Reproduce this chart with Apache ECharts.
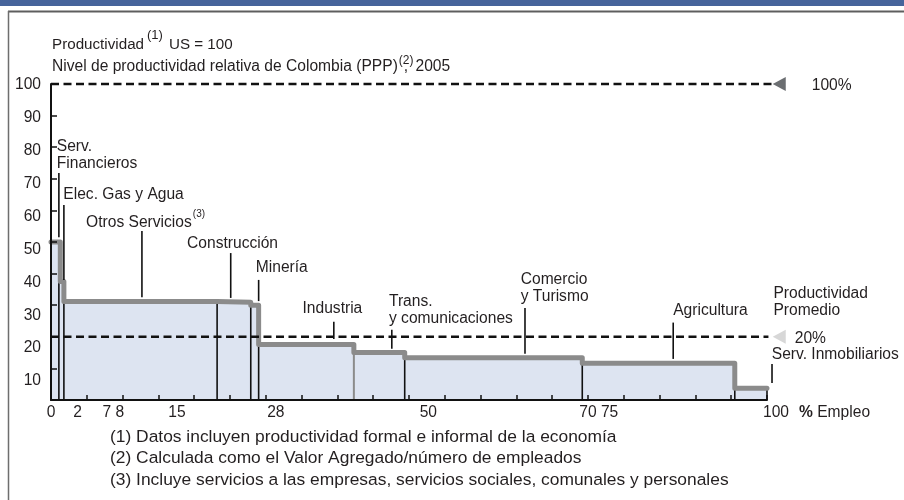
<!DOCTYPE html>
<html><head><meta charset="utf-8">
<script src="https://cdn.jsdelivr.net/npm/echarts@6/dist/echarts.min.js"></script>
<style>html,body{margin:0;padding:0;background:#fff}#c{width:904px;height:500px}</style>
</head><body><div id="c"></div>
<script>
// ---------------- data ----------------
const sectors = ['Serv. Financieros', 'Elec. Gas y Agua', 'Otros Servicios', 'Construcción', 'Minería',
  'Industria', 'Trans. y comunicaciones', 'Comercio y Turismo', 'Agricultura', 'Serv. Inmobiliarios'];
// cumulative % of employment at each sector boundary
const employmentBounds = [0, 1.3, 1.8, 23.2, 27.9, 29.0, 42.3, 49.4, 74.2, 95.5, 100];
// relative productivity (US = 100) of each sector
const productivity = [50, 37.5, 31.2, 30.9, 30.0, 17.6, 15.0, 13.4, 11.6, 3.7];
// vertical separators drawn inside the area (% empleo)
const dividerPositions = [1.1, 1.8, 23.2, 27.9, 29.0, 42.3, 49.4, 74.2, 95.5, 100];
// reference levels
const referenceLevels = [100, 20];
const referenceLabels = ['100%', '20%'];
// axis ticks / labels
const yTickValues = [10, 20, 30, 40, 50, 60, 70, 80, 90];
const yLabelValues = [10, 20, 30, 40, 50, 60, 70, 80, 90, 100];
const yLabelTexts = ['10', '20', '30', '40', '50', '60', '70', '80', '90', '100'];
const xTickValues = [5, 10, 15, 20, 25, 30, 35, 40, 45, 50, 55, 60, 65, 70, 75, 80, 85, 90, 95, 100];
const xLabelValues = [0, 3.7, 8.7, 17.6, 31.4, 52.7, 76.5, 100];
const xLabelTexts = ['0', '2', '7 8', '15', '28', '50', '70 75', '100'];
const footnotes = [
  '(1) Datos incluyen productividad formal e informal de la economía',
  '(2) Calculada como el Valor Agregado/número de empleados',
  '(3) Incluye servicios a las empresas, servicios sociales, comunales y personales'
];

// ---------------- layout / style ----------------
const FONT = '"Liberation Sans", Arial, Helvetica, sans-serif';
const FS = 15.6;
const TXT = '#231f20';
const annotations = [
  { text: 'Serv.\nFinancieros', at: [0.8, 77.4], leader: [1.1, 71.8, 51.5] },
  { text: 'Elec. Gas y Agua', at: [1.72, 64.9], leader: [1.8, 61.7, 38] },
  { text: 'Otros Servicios', sup: '(3)', at: [4.9, 56.1], leader: [12.7, 53.5, 32.5] },
  { text: 'Construcción', at: [19.0, 49.4], leader: [25.1, 46.5, 32.3] },
  { text: 'Minería', at: [28.6, 41.8], leader: [29.0, 38, 31.3] },
  { text: 'Industria', at: [39.3, 28.8], align: 'center', leader: [39.5, 24.8, 19.3] },
  { text: 'Trans.\ny comunicaciones', at: [47.2, 28.4], leader: [47.6, 22.2, 16.2] },
  { text: 'Comercio\ny Turismo', at: [65.6, 35.5], leader: [66.2, 29.1, 14.6] },
  { text: 'Agricultura', at: [86.9, 28.3], leader: [86.9, 24.5, 13.0] },
  { text: 'Productividad\nPromedio', at: [100.9, 30.9] },
  { text: 'Serv. Inmobiliarios', at: [100.66, 14.2], leader: [100.7, 11.4, 5.4] }
];
const refStyle = [
  { end: 100.7, tip: 100.8, tri: '#6b6e71', labelDx: 39 },
  { end: 100.2, tip: 100.8, tri: '#d7d7d7', labelDx: 22 }
];
const dividerGray = [42.3];

const mctx = document.createElement('canvas').getContext('2d');
function tw(t, size) { mctx.font = size + 'px ' + FONT; return mctx.measureText(t).width; }

// step outline points built from the data
const stepPoints = [];
productivity.forEach((v, i) => {
  stepPoints.push([employmentBounds[i], v]);
  stepPoints.push([employmentBounds[i + 1], v]);
});
function heightAt(p) {
  for (let i = 0; i < productivity.length; i++) {
    if (p > employmentBounds[i] && p <= employmentBounds[i + 1]) return productivity[i];
  }
  return productivity[0];
}
const dividerData = dividerPositions.map(p => [p, heightAt(p)]);

const chart = echarts.init(document.getElementById('c'), null, { renderer: 'canvas' });

// title + frame graphics
const TFS = 15.2;
const t1w = tw('Productividad', TFS);
const sup1x = 52 + t1w + 3;
const t2 = 'Nivel de productividad relativa de Colombia (PPP)';
const t2w = tw(t2, FS);
const sup2x = 52 + t2w + 1;
const graphics = [
  { type: 'rect', shape: { x: 0, y: 0, width: 904, height: 6 }, style: { fill: '#46649b' } },
  { type: 'line', shape: { x1: 8, y1: 11.5, x2: 904, y2: 11.5 }, style: { stroke: '#5e5e5e', lineWidth: 2 } },
  { type: 'line', shape: { x1: 8.5, y1: 11, x2: 8.5, y2: 500 }, style: { stroke: '#6e6e6e', lineWidth: 1.5 } },
  { type: 'text', style: { text: 'Productividad', x: 52, y: 45, fill: TXT, fontSize: TFS, fontFamily: FONT, verticalAlign: 'middle' } },
  { type: 'text', style: { text: '(1)', x: sup1x, y: 35, fill: TXT, fontSize: 13, fontFamily: FONT, verticalAlign: 'middle' } },
  { type: 'text', style: { text: 'US = 100', x: sup1x + tw('(1)', 13) + 6, y: 45, fill: TXT, fontSize: TFS, fontFamily: FONT, verticalAlign: 'middle' } },
  { type: 'text', style: { text: t2, x: 52, y: 67, fill: TXT, fontSize: FS, fontFamily: FONT, verticalAlign: 'middle' } },
  { type: 'text', style: { text: '(2)', x: sup2x, y: 61, fill: TXT, fontSize: 12, fontFamily: FONT, verticalAlign: 'middle' } },
  { type: 'text', style: { text: ',', x: sup2x + 5, y: 67, fill: TXT, fontSize: FS, fontFamily: FONT, verticalAlign: 'middle' } },
  { type: 'text', style: { text: '2005', x: sup2x + tw('(2)', 12) + 2, y: 67, fill: TXT, fontSize: FS, fontFamily: FONT, verticalAlign: 'middle' } }
];
footnotes.forEach((f, i) => {
  graphics.push({ type: 'text', style: { text: f, x: 110, y: 437 + i * 21.5, fill: TXT, fontSize: 17.4, fontFamily: FONT, verticalAlign: 'middle' } });
});

const option = {
  animation: false,
  backgroundColor: '#fff',
  grid: { left: 51, right: 137, top: 84, bottom: 100, containLabel: false, outerBoundsMode: 'none' },
  xAxis: {
    type: 'value', min: 0, max: 100, z: 10,
    splitLine: { show: false },
    axisLine: { show: true, lineStyle: { color: '#111', width: 2 } },
    axisTick: { show: true, inside: true, length: 5, customValues: xTickValues, lineStyle: { color: '#111', width: 1.5 } },
    axisLabel: {
      show: true, customValues: xLabelValues, showMinLabel: true, showMaxLabel: true,
      margin: 5, color: TXT, fontSize: FS, fontFamily: FONT,
      formatter: function (val) {
        const i = xLabelValues.indexOf(val);
        const s = i >= 0 ? xLabelTexts[i] : '';
        return val === 100 ? '{r|' + s + '}' : s;
      },
      rich: { r: { padding: [0, 0, 0, 18], fontSize: FS, fontFamily: FONT, color: TXT } }
    },
    name: '{b|%} Empleo', nameLocation: 'end', nameGap: 32,
    nameTextStyle: {
      color: TXT, fontSize: FS, fontFamily: FONT, verticalAlign: 'top', padding: [5, 0, 0, 0],
      rich: { b: { fontWeight: 'bold', fontSize: FS, fontFamily: FONT, color: TXT } }
    }
  },
  yAxis: [
    {
      type: 'value', min: 0, max: 100, z: 10,
      splitLine: { show: false },
      axisLine: { show: true, lineStyle: { color: '#111', width: 2 } },
      axisTick: { show: true, inside: true, length: 6, customValues: yTickValues, lineStyle: { color: '#111', width: 1.5 } },
      axisLabel: { show: false }
    },
    {
      type: 'value', min: 4.23, max: 100.3, position: 'left',
      splitLine: { show: false }, axisLine: { show: false }, axisTick: { show: false },
      axisLabel: {
        show: true, customValues: yLabelValues, showMinLabel: true, showMaxLabel: true,
        margin: 10, color: TXT, fontSize: FS, fontFamily: FONT,
        formatter: function (val) { const i = yLabelValues.indexOf(val); return i >= 0 ? yLabelTexts[i] : ''; }
      }
    }
  ],
  graphic: graphics,
  series: [
    {
      name: 'area', type: 'line', data: stepPoints, symbol: 'none', z: 1,
      lineStyle: { width: 0, opacity: 0 }, areaStyle: { color: '#dde4f1', opacity: 1 }, silent: true
    },
    {
      name: 'dividers', type: 'custom', z: 2, data: dividerData, silent: true,
      renderItem: function (params, api) {
        const p = api.value(0), h = api.value(1);
        const a = api.coord([p, 0]), b = api.coord([p, h]);
        const gray = dividerGray.indexOf(p) >= 0;
        return { type: 'line', shape: { x1: a[0], y1: a[1], x2: b[0], y2: b[1] },
          style: { stroke: gray ? '#8b8b8b' : '#111', lineWidth: gray ? 2 : 1.6 } };
      }
    },
    {
      name: 'Productividad', type: 'line', data: stepPoints, symbol: 'none', z: 3,
      lineStyle: { color: '#8b8b8b', width: 5, join: 'round', cap: 'round' }, silent: true
    },
    {
      name: 'referencias', type: 'custom', z: 4, silent: true,
      data: referenceLevels.map(v => [0, v]),
      renderItem: function (params, api) {
        const i = params.dataIndex, v = api.value(1), st = refStyle[i];
        const a = api.coord([0, v]), b = api.coord([st.end, v]), tip = api.coord([st.tip, v]);
        return { type: 'group', children: [
          { type: 'line', shape: { x1: a[0], y1: a[1], x2: b[0], y2: b[1] },
            style: { stroke: '#111', lineWidth: 2.5, lineDash: [8, 4.5] } },
          { type: 'polygon', shape: { points: [[tip[0], tip[1]], [tip[0] + 13, tip[1] - 7], [tip[0] + 13, tip[1] + 7]] },
            style: { fill: st.tri } },
          { type: 'text', style: { text: referenceLabels[i], x: tip[0] + st.labelDx, y: tip[1] + 2, fill: TXT,
            fontSize: FS, fontFamily: FONT, verticalAlign: 'middle' } }
        ] };
      }
    },
    {
      name: 'sectores', type: 'custom', z: 5, silent: true,
      data: annotations.map((a, i) => [a.at[0], a.at[1], i]),
      renderItem: function (params, api) {
        const a = annotations[params.dataIndex];
        const children = [];
        if (a.leader) {
          const p0 = api.coord([a.leader[0], a.leader[1]]), p1 = api.coord([a.leader[0], a.leader[2]]);
          children.push({ type: 'line', shape: { x1: p0[0], y1: p0[1], x2: p1[0], y2: p1[1] },
            style: { stroke: '#111', lineWidth: 1.6 } });
        }
        const t = api.coord([api.value(0), api.value(1)]);
        children.push({ type: 'text', style: { text: a.text, x: t[0], y: t[1], fill: TXT, fontSize: FS, fontFamily: FONT,
          align: a.align || 'left', verticalAlign: 'middle', lineHeight: 17 } });
        if (a.sup) {
          const w = tw(a.text, FS);
          children.push({ type: 'text', style: { text: a.sup, x: t[0] + w + 1, y: t[1] - 8, fill: TXT, fontSize: 10,
            fontFamily: FONT, align: 'left', verticalAlign: 'middle' } });
        }
        return { type: 'group', children: children };
      }
    }
  ]
};
chart.setOption(option);
</script>
</body></html>
